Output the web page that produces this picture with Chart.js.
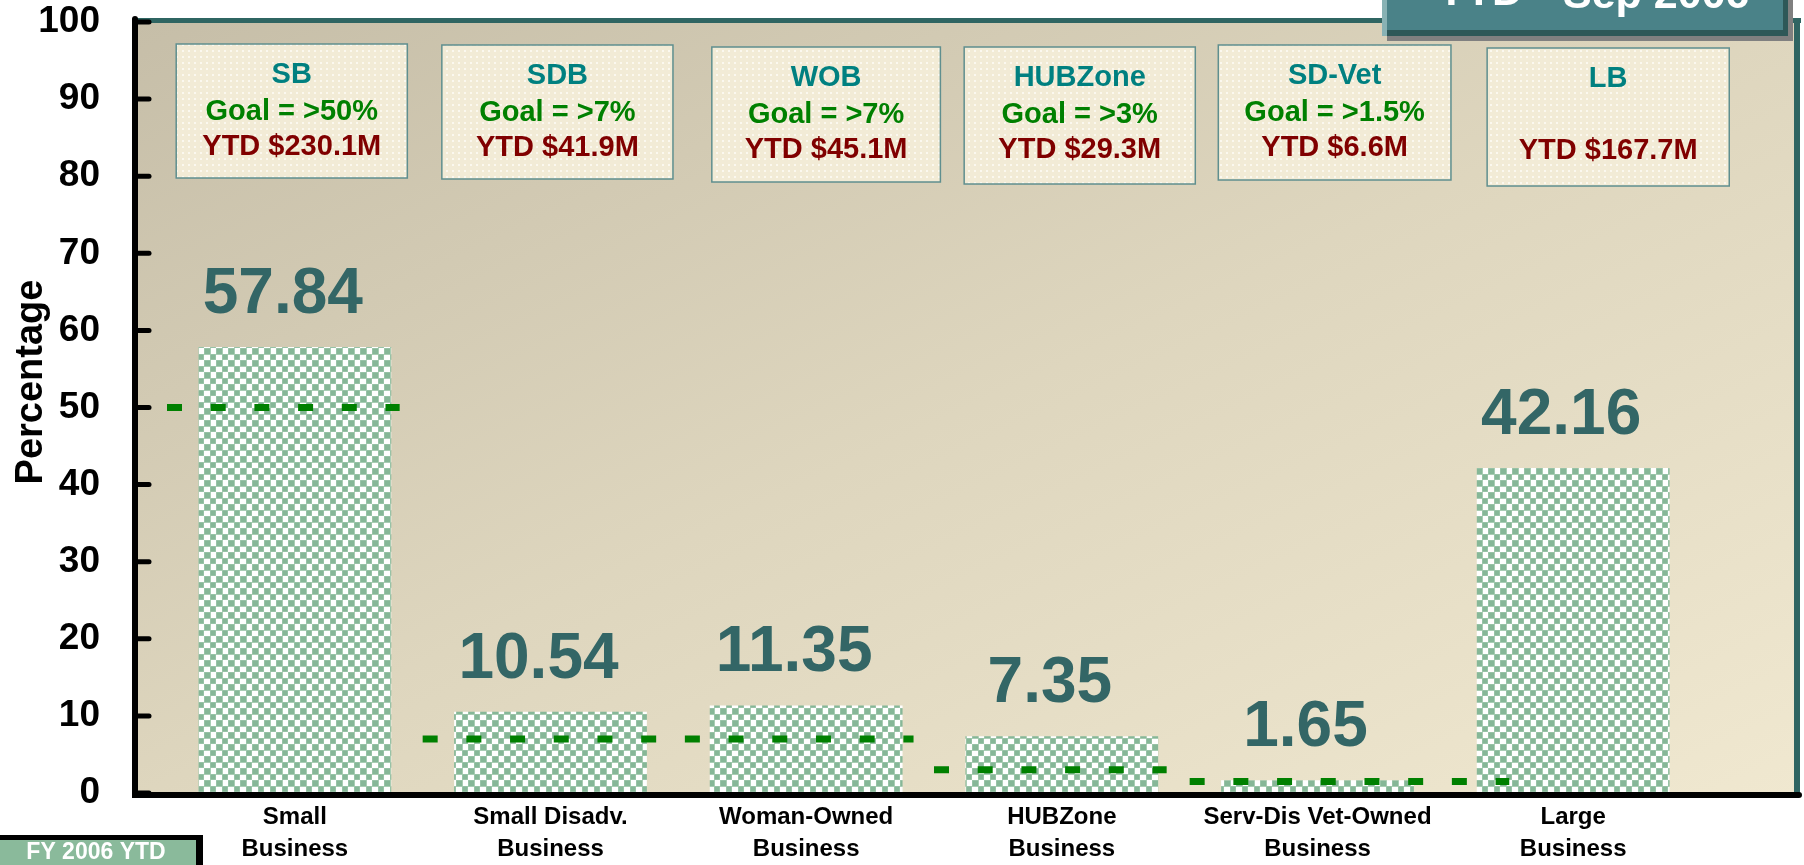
<!DOCTYPE html>
<html>
<head>
<meta charset="utf-8">
<script src="https://cdn.jsdelivr.net/npm/chart.js@4.4.0/dist/chart.umd.min.js"></script>
<style>
    body { margin: 0; background: #ffffff; }
    canvas { display: block; }
</style>
</head>
<body>
<canvas id="myChart" width="1804" height="865"></canvas>
<script>
const categories = [
    ['Small', 'Business'],
    ['Small Disadv.', 'Business'],
    ['Woman-Owned', 'Business'],
    ['HUBZone', 'Business'],
    ['Serv-Dis Vet-Owned', 'Business'],
    ['Large', 'Business']
];
const percentages = [57.84, 10.54, 11.35, 7.35, 1.65, 42.16];

const boxTitles = ['SB', 'SDB', 'WOB', 'HUBZone', 'SD-Vet', 'LB'];
const boxGoals = ['Goal = >50%', 'Goal = >7%', 'Goal = >7%', 'Goal = >3%', 'Goal = >1.5%', ''];
const boxYtd = ['YTD $230.1M', 'YTD $41.9M', 'YTD $45.1M', 'YTD $29.3M', 'YTD $6.6M', 'YTD $167.7M'];

const goalValues = [50, 7, 3, 1.5];

const titleText = ['YTD - ', 'Sep 2006'];
const footText = 'FY 2006 YTD';

// layout / style (category units for x)
const goalSpans = [[-0.5, 0.41], [0.5, 2.42], [2.5, 3.41], [3.5, 4.75]];
const boxShift = [-0.012, 0.027, 0.078, 0.070, 0.067, 0.137];
const boxWidth = [0.904, 0.904, 0.894, 0.904, 0.91, 0.947];
const boxTop = [44, 45, 47, 47, 45, 48];
const boxHeight = [134, 134, 135, 137, 135, 138];

const FONT = '"Liberation Sans", Arial, sans-serif';

const ctx = document.getElementById('myChart').getContext('2d');

function makeChecker() {
    const c = document.createElement('canvas');
    c.width = 12;
    c.height = 12;
    const g = c.getContext('2d');
    g.fillStyle = '#ffffff';
    g.fillRect(0, 0, 12, 12);
    g.fillStyle = '#a9cdb4';
    g.fillRect(0, 0, 7, 7);
    g.fillRect(6, 6, 6, 6);
    g.fillStyle = '#86b797';
    g.fillRect(0.5, 0.5, 5.5, 5.5);
    g.fillRect(6.5, 6.5, 5, 5);
    return ctx.createPattern(c, 'repeat');
}

function makeDots() {
    const c = document.createElement('canvas');
    c.width = 6;
    c.height = 6;
    const g = c.getContext('2d');
    g.fillStyle = '#f2ebd6';
    g.fillRect(0, 0, 6, 6);
    g.fillStyle = '#fbf8ef';
    g.fillRect(2, 2, 2, 2);
    return ctx.createPattern(c, 'repeat');
}

const dotPattern = makeDots();

const decorations = {
    id: 'decorations',
    beforeDraw(chart) {
        const c = chart.ctx;
        const a = chart.chartArea;
        const left = a.left - 32;
        const right = a.right + 96;
        const g = c.createLinearGradient(left, a.top, left + 593, a.top + 1273);
        g.addColorStop(0, '#c6bea8');
        g.addColorStop(0.5, '#ded6be');
        g.addColorStop(1, '#f0e8d0');
        c.save();
        c.fillStyle = g;
        c.fillRect(left, a.top - 2, right - left, a.bottom - a.top + 4);
        c.restore();
    },
    afterDatasetsDraw(chart) {
        const c = chart.ctx;
        const a = chart.chartArea;
        const x = chart.scales.x;
        const y = chart.scales.y;
        const left = a.left - 32;
        const right = a.right + 96;
        c.save();

        // panel frame
        c.fillStyle = '#2f6562';
        c.fillRect(left, a.top - 4, right - left + 4, 5);
        c.fillRect(right - 3, a.top - 4, 6, a.bottom - a.top + 6);

        c.strokeStyle = '#000000';
        c.lineWidth = 6;
        c.lineCap = 'round';
        c.beginPath();
        c.moveTo(left, a.top - 3);
        c.lineTo(left, a.bottom + 2);
        c.lineTo(right + 2, a.bottom + 2);
        c.stroke();
        c.lineWidth = 5;
        y.ticks.forEach((t) => {
            const py = y.getPixelForValue(t.value);
            c.beginPath();
            c.moveTo(left, py);
            c.lineTo(left + 14, py);
            c.stroke();
        });

        // value labels
        const meta = chart.getDatasetMeta(0);
        c.fillStyle = '#336666';
        c.font = 'bold 64px ' + FONT;
        c.textAlign = 'center';
        c.textBaseline = 'alphabetic';
        meta.data.forEach((bar, i) => {
            c.fillText(percentages[i].toFixed(2), bar.x - 12, bar.y - 34);
        });

        // info boxes
        const step = x.getPixelForValue(1) - x.getPixelForValue(0);
        for (let i = 0; i < boxTitles.length; i++) {
            const cx = x.getPixelForValue(i + boxShift[i]);
            const w = boxWidth[i] * step;
            const top = boxTop[i];
            c.fillStyle = dotPattern;
            c.fillRect(cx - w / 2, top, w, boxHeight[i]);
            c.strokeStyle = '#5f8f8f';
            c.lineWidth = 1.5;
            c.strokeRect(cx - w / 2, top, w, boxHeight[i]);

            c.font = 'bold 29px ' + FONT;
            c.textBaseline = 'middle';
            c.fillStyle = '#008080';
            c.fillText(boxTitles[i], cx, top + 31);
            c.fillStyle = '#008000';
            c.fillText(boxGoals[i], cx, top + 68);
            c.fillStyle = '#800000';
            c.fillText(boxYtd[i], cx, top + 103);
        }

        // y axis title
        c.save();
        c.translate(42, 382);
        c.rotate(-Math.PI / 2);
        c.fillStyle = '#000000';
        c.font = 'bold 38px ' + FONT;
        c.textAlign = 'center';
        c.textBaseline = 'alphabetic';
        c.fillText('Percentage', 0, 0);
        c.restore();

        // period tag, top right
        c.fillStyle = '#808080';
        c.fillRect(1387, 0, 406, 41);
        c.fillStyle = '#2e5858';
        c.fillRect(1382, 0, 406, 36);
        c.fillStyle = '#88b2b4';
        c.fillRect(1382, 0, 5, 36);
        c.fillStyle = '#4a8288';
        c.fillRect(1387, 0, 396, 30);
        c.fillStyle = '#ffffff';
        c.font = 'bold 43px ' + FONT;
        c.textAlign = 'left';
        c.textBaseline = 'alphabetic';
        c.fillText(titleText[0], 1437, 5);
        c.fillText(titleText[1], 1563, 8);

        // footnote tag, bottom left
        c.fillStyle = '#000000';
        c.fillRect(0, 835, 203, 30);
        c.fillStyle = '#8aba9b';
        c.fillRect(0, 840, 196, 25);
        c.fillStyle = '#ffffff';
        c.font = 'bold 23px ' + FONT;
        c.textAlign = 'center';
        c.textBaseline = 'middle';
        c.fillText(footText, 96, 853);

        c.restore();
    }
};

const goalDatasets = goalValues.map((v, i) => {
    return {
        type: 'line',
        xAxisID: 'xg',
        data: [{ x: goalSpans[i][0], y: v }, { x: goalSpans[i][1], y: v }],
        borderColor: '#008000',
        borderWidth: 7,
        borderDash: [15, 28.7],
        borderCapStyle: 'butt',
        pointRadius: 0,
        fill: false,
        order: 1
    };
});

const myChart = new Chart(ctx, {
    type: 'bar',
    data: {
        labels: categories,
        datasets: [{
            label: 'Percentage',
            data: percentages,
            backgroundColor: makeChecker(),
            borderWidth: 0,
            grouped: false,
            barPercentage: 0.754,
            categoryPercentage: 1,
            order: 2
        }].concat(goalDatasets)
    },
    options: {
        responsive: false,
        animation: false,
        devicePixelRatio: 1,
        layout: { padding: { top: 22, right: 103, left: 0, bottom: 0 } },
        plugins: {
            legend: { display: false },
            tooltip: { enabled: false }
        },
        scales: {
            x: {
                offset: true,
                grid: { display: false, drawTicks: false },
                border: { display: false },
                ticks: {
                    padding: 8,
                    color: '#000000',
                    maxRotation: 0,
                    autoSkip: false,
                    font: { family: FONT, weight: 'bold', size: 24, lineHeight: 1.33 }
                },
                afterFit: (s) => {
                    s.height = 72;
                    s.paddingLeft = 0;
                    s.paddingRight = 0;
                }
            },
            xg: {
                type: 'linear',
                axis: 'x',
                display: false,
                min: -0.5,
                max: 5.5,
                offset: false
            },
            y: {
                min: 0,
                max: 100,
                grid: { display: false, drawTicks: false },
                border: { display: false },
                ticks: {
                    stepSize: 10,
                    padding: 67,
                    color: '#000000',
                    font: { family: FONT, weight: 'bold', size: 37 }
                },
                afterFit: (s) => {
                    s.width = 167;
                    s.paddingTop = 0;
                    s.paddingBottom = 0;
                }
            }
        }
    },
    plugins: [decorations]
});
</script>
</body>
</html>
